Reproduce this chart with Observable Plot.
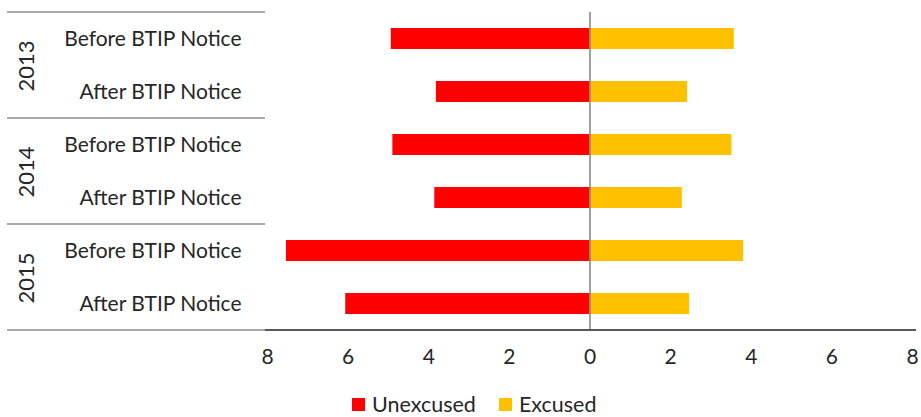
<!DOCTYPE html>
<html>
<head>
<meta charset="utf-8">
<script src="https://cdn.jsdelivr.net/npm/d3@7"></script>
<script src="https://cdn.jsdelivr.net/npm/@observablehq/plot@0.6"></script>
<style>
  html, body { margin: 0; padding: 0; background: #fff; }
  #chart { width: 921px; }
  .legend { display: flex; align-items: center; height: 30px; margin-top: 2px; padding-left: 352px; font-family: Lato, "Open Sans", sans-serif; font-size: 21.5px; color: #262626; }
  .legend .sw { width: 13px; height: 13px; display: inline-block; margin-right: 7px; }
  .legend .item { display: flex; align-items: center; margin-right: 23px; }
</style>
</head>
<body>
<div id="chart"></div>
<script>
const years = [2013, 2014, 2015];
const periods = ["Before BTIP Notice", "After BTIP Notice"];
const unexcused = [4.93, 3.81, 4.89, 3.85, 7.53, 6.06];
const excused = [3.58, 2.42, 3.52, 2.29, 3.81, 2.47];
const xTicks = [-8, -6, -4, -2, 0, 2, 4, 6, 8];
const seriesNames = ["Unexcused", "Excused"];
const seriesColors = ["#ff0000", "#ffc000"];

const rows = [];
years.forEach((yr, i) => periods.forEach((p, j) => {
  const k = i * 2 + j;
  rows.push({year: yr, period: p, unexcused: unexcused[k], excused: excused[k]});
}));

const font = "Lato, 'Open Sans', sans-serif";

const chart = Plot.plot({
  width: 921,
  height: 387,
  marginLeft: 267,
  marginRight: 9,
  marginTop: 12,
  marginBottom: 57,
  style: {fontFamily: font, fontSize: "21px", color: "#262626", background: "#fff"},
  x: {domain: [-8, 8], ticks: xTicks, tickFormat: d => Math.abs(d), tickSize: 0, tickPadding: 19, label: null},
  y: {domain: periods, padding: 0, tickSize: 0, tickPadding: 26, label: null},
  fy: {domain: years, padding: 0, axis: null},
  marks: [
    Plot.barX(rows, {fy: "year", y: "period", x1: 0, x2: d => -d.unexcused, fill: seriesColors[0], insetTop: 16, insetBottom: 16}),
    Plot.barX(rows, {fy: "year", y: "period", x1: 0, x2: "excused", fill: seriesColors[1], insetTop: 16, insetBottom: 16}),
    Plot.ruleX([0], {stroke: "#808080", strokeWidth: 1.5}),
    Plot.text(years, {fy: d => d, text: d => String(d), frameAnchor: "left", dx: -241, dy: 26, rotate: -90, fontSize: 22, fill: "#262626"})
  ]
});

// separator lines and axis baseline, positioned from Plot's own scales
const fy = chart.scale("fy");
const xs = chart.scale("x");
const svg = d3.select(chart.tagName.toLowerCase() === "svg" ? chart : chart.querySelector("svg"));
const bw = fy.bandwidth;
const bounds = years.map(y => fy.apply(y)).concat([fy.apply(years[years.length - 1]) + bw]);
const x0 = xs.apply(-8);
const x1 = xs.apply(8);
bounds.forEach(b => {
  svg.append("line").attr("x1", 7).attr("x2", x0 - 2).attr("y1", b).attr("y2", b)
    .attr("stroke", "#8c8c8c").attr("stroke-width", 1.6);
});
svg.append("line").attr("x1", x0 - 2).attr("x2", x1 + 4)
  .attr("y1", bounds[bounds.length - 1]).attr("y2", bounds[bounds.length - 1])
  .attr("stroke", "#595959").attr("stroke-width", 1.8);

document.getElementById("chart").appendChild(chart);

const legend = document.createElement("div");
legend.className = "legend";
seriesNames.forEach((n, i) => {
  const it = document.createElement("span");
  it.className = "item";
  const sw = document.createElement("span");
  sw.className = "sw";
  sw.style.background = seriesColors[i];
  it.appendChild(sw);
  it.appendChild(document.createTextNode(n));
  legend.appendChild(it);
});
document.getElementById("chart").appendChild(legend);
</script>
</body>
</html>
